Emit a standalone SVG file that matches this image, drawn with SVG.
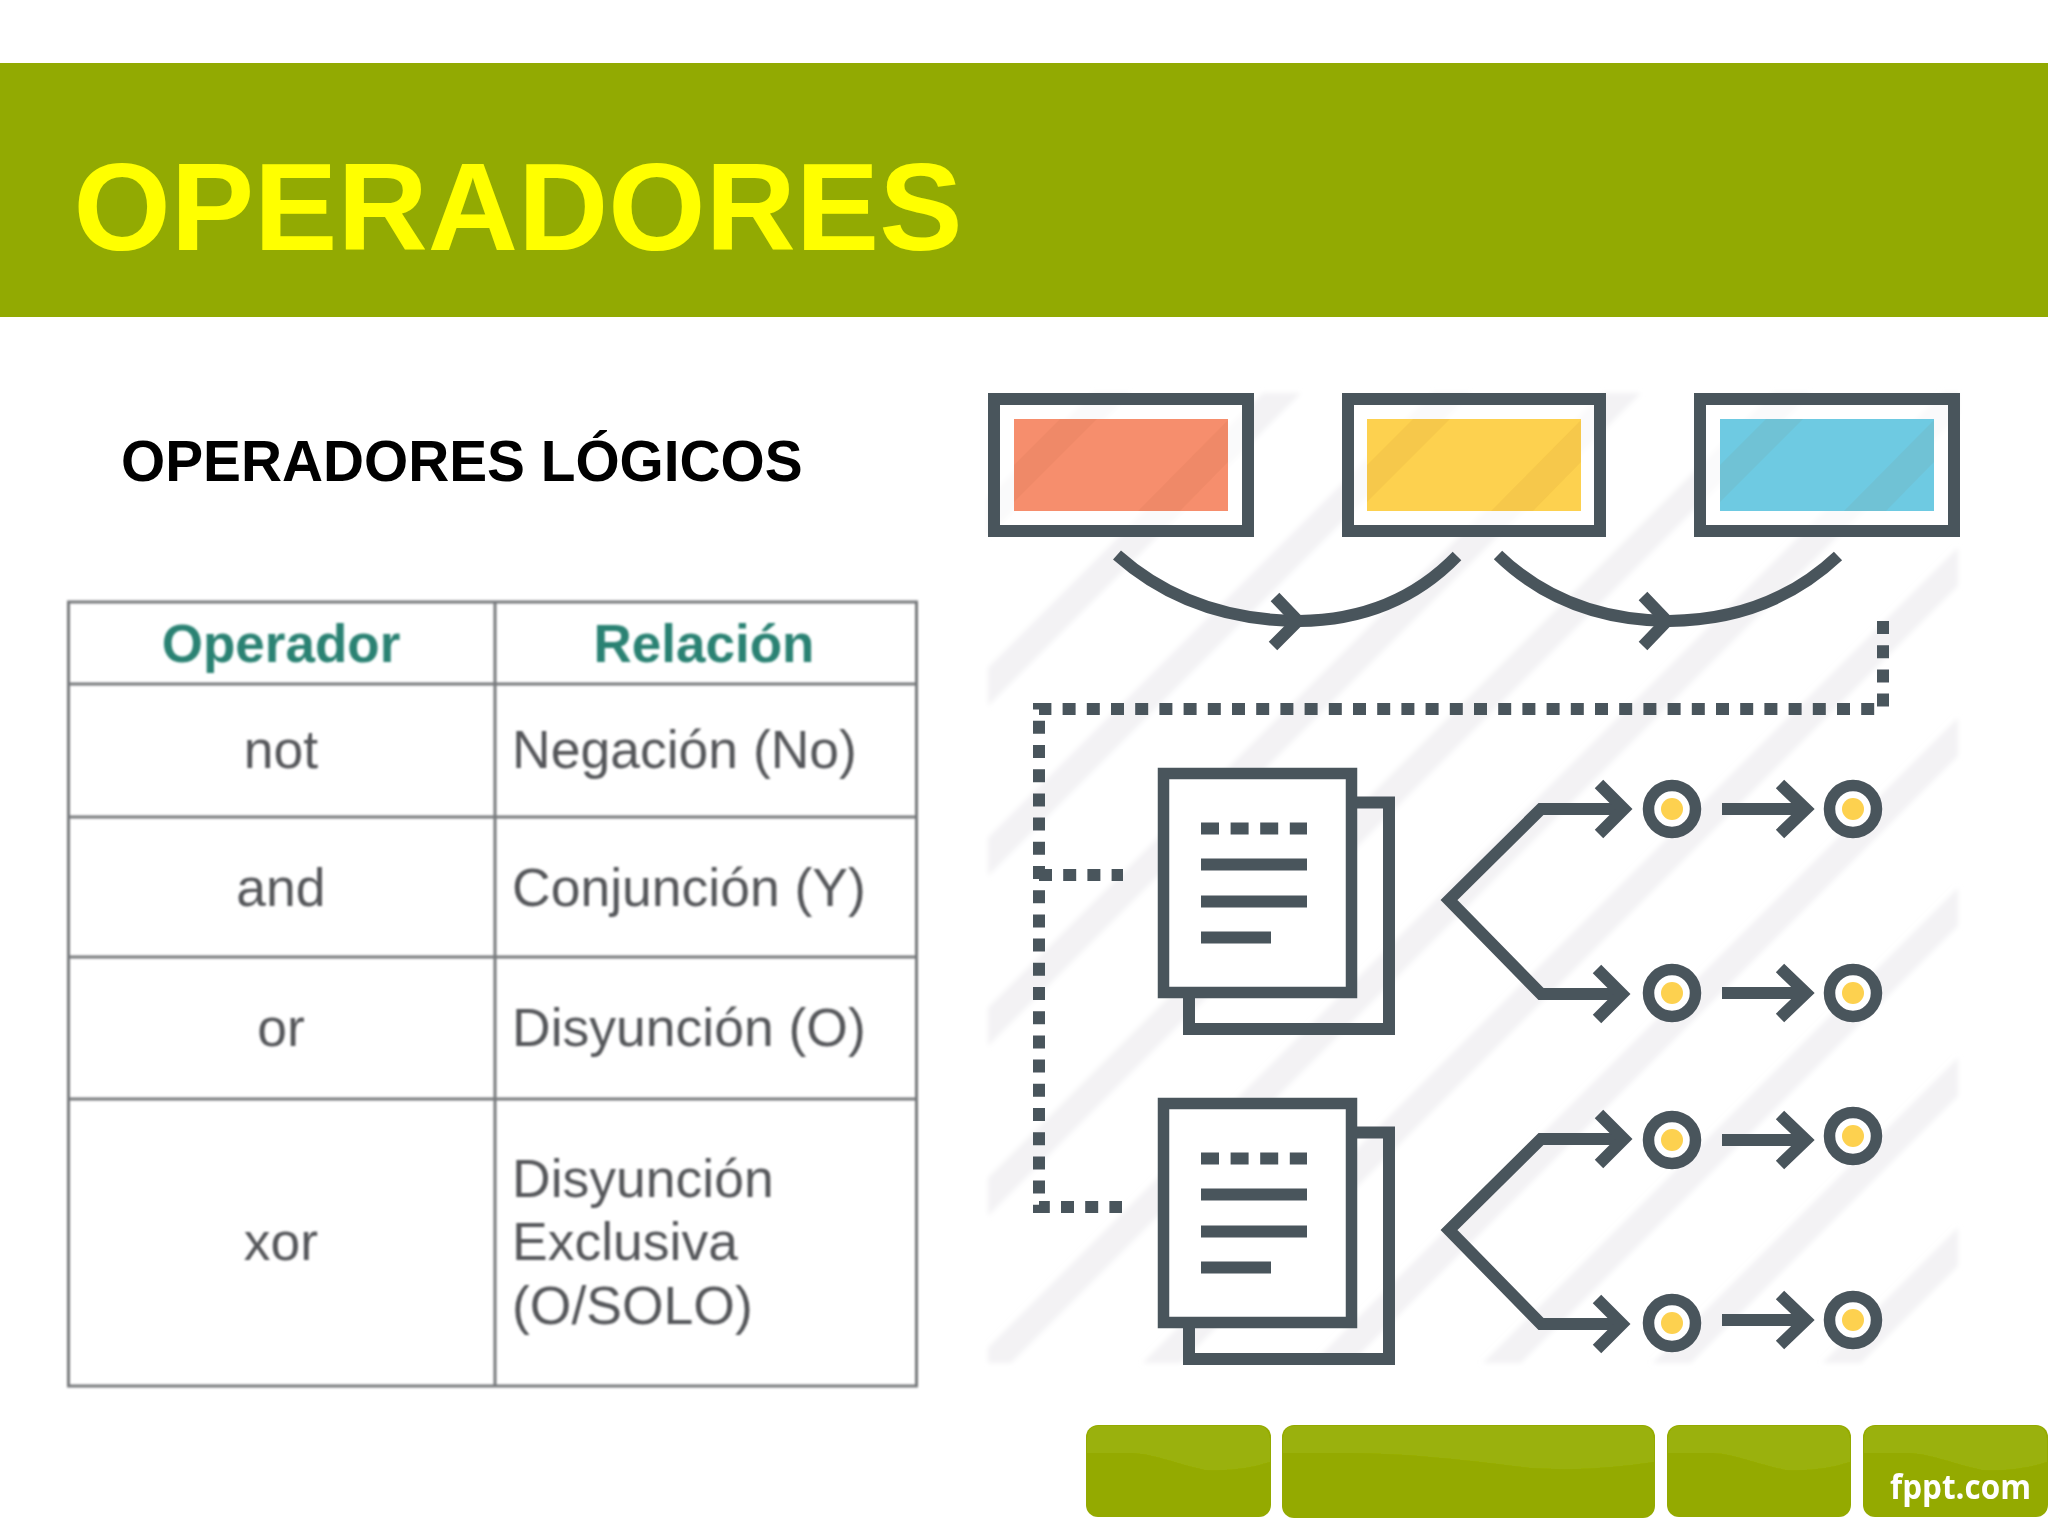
<svg xmlns="http://www.w3.org/2000/svg" width="2048" height="1536" viewBox="0 0 2048 1536">
<style>
.ink{fill:none;stroke:#4a545c;stroke-width:12}
.dot{fill:none;stroke:#4a545c;stroke-width:12;stroke-dasharray:13 11.2}
.frame{fill:#fff;fill-opacity:.6;stroke:#4a545c;stroke-width:12}
.page{fill:#fff;stroke:#4a545c;stroke-width:11.500}
.tint{fill:#8a4a10;fill-opacity:.06}
.ring{fill:#fff;stroke:#4a545c;stroke-width:11.500}
.gold{fill:#fdd14f}
.cell{fill:none;stroke:#77797c;stroke-width:3}
.th{font:bold 53px "Liberation Sans",Arial,sans-serif;fill:#2b8273;text-anchor:middle}
.td{font:53.500px "Liberation Sans",Arial,sans-serif;fill:#55575a}
.tc{text-anchor:middle}
.foot{fill:#94aa02}
.wave{fill:#9ab108}
</style>
<defs>
<pattern id="stripes" patternUnits="userSpaceOnUse" width="120.200" height="120.200" patternTransform="rotate(45)">
<rect x="89" y="0" width="27" height="120.200" fill="#f3f2f4"/>
</pattern>
<filter id="soft" x="-2%" y="-2%" width="104%" height="104%"><feGaussianBlur stdDeviation="0.9"/></filter>
<filter id="softer" x="-2%" y="-2%" width="104%" height="104%"><feGaussianBlur stdDeviation="0.6"/></filter>
<filter id="haze" x="-2%" y="-2%" width="104%" height="104%"><feGaussianBlur stdDeviation="2.500"/></filter>
<g id="tints"><polygon class="tint" points="1060,419 1097,419 1014,502 1014,465"/><polygon class="tint" points="1228,420 1228,462 1180,511 1138,511"/></g>
<g id="doc">
<path class="ink" d="M1357,802.500H1389V1029H1189V998"/>
<rect class="page" x="1163.500" y="773.500" width="188" height="219"/>
<path class="ink" stroke-dasharray="18 11.600" d="M1201,828.500H1307"/>
<path class="ink" d="M1201,864.500H1307M1201,901.500H1307M1201,937.500H1271"/>
</g>
<g id="fork">
<path class="ink" d="M1624,809H1541L1449,900L1541,994H1622"/>
<path class="ink" d="M1599,784L1624,809L1599,834M1597,969L1622,994L1597,1019"/>
</g>
<g id="step"><path class="ink" d="M0,0H84M58,-25L84,0L58,25"/></g>
<g id="pt"><circle class="ring" r="23.500"/><circle class="gold" r="11"/></g>
</defs>
<rect width="2048" height="1536" fill="#fff"/>
<g id="header">
<rect y="63" width="2048" height="254" fill="#92aa02"/>
<text x="73.500" y="250" style="font:bold 125px 'Liberation Sans',Arial,sans-serif" fill="#ffff00">OPERADORES</text>
</g>
<text id="subtitle" x="121" y="481" style="font:bold 56.800px 'Liberation Sans',Arial,sans-serif" fill="#000">OPERADORES LÓGICOS</text>

<g id="table" filter="url(#soft)">
<rect class="cell" x="68.500" y="602" width="848" height="784"/>
<path class="cell" d="M495,602V1386M68,684H917M68,817H917M68,957H917M68,1099H917"/>
<text class="th" x="281" y="662">Operador</text>
<text class="th" x="704" y="662">Relación</text>
<text class="td tc" x="281" y="768">not</text>
<text class="td" x="512" y="768">Negación (No)</text>
<text class="td tc" x="281" y="906">and</text>
<text class="td" x="512" y="906">Conjunción (Y)</text>
<text class="td tc" x="281" y="1046">or</text>
<text class="td" x="512" y="1046">Disyunción (O)</text>
<text class="td tc" x="281" y="1260">xor</text>
<text class="td" x="512" y="1197">Disyunción</text>
<text class="td" x="512" y="1260">Exclusiva</text>
<text class="td" x="512" y="1324">(O/SOLO)</text>
</g>

<rect id="backdrop" x="988" y="393" width="970" height="970" fill="url(#stripes)" filter="url(#haze)"/>

<g id="illustration" filter="url(#softer)">
<g id="box-red"><rect class="frame" x="994" y="399" width="254" height="132"/><rect x="1014" y="419" width="214" height="92" fill="#f68e6d"/><use href="#tints"/></g>
<g id="box-yellow"><rect class="frame" x="1348" y="399" width="252" height="132"/><rect x="1367" y="419" width="214" height="92" fill="#fdd14f"/><use href="#tints" x="353"/></g>
<g id="box-blue"><rect class="frame" x="1700" y="399" width="254" height="132"/><rect x="1720" y="419" width="214" height="92" fill="#6ecae2"/><use href="#tints" x="706"/></g>

<g id="doc-1"><use href="#doc"/></g>
<g id="doc-2"><use href="#doc" y="330"/></g>
<g id="point-1a"><use href="#pt" x="1672" y="809"/></g>
<g id="point-1b"><use href="#pt" x="1853" y="809"/></g>
<g id="point-2a"><use href="#pt" x="1672" y="993"/></g>
<g id="point-2b"><use href="#pt" x="1853" y="993"/></g>
<g id="point-3a"><use href="#pt" x="1672" y="1140"/></g>
<g id="point-3b"><use href="#pt" x="1853" y="1136"/></g>
<g id="point-4a"><use href="#pt" x="1672" y="1323"/></g>
<g id="point-4b"><use href="#pt" x="1853" y="1320"/></g>

<g id="connectors">
<path class="ink" d="M1117,555Q1190,620 1299,621Q1395,620 1457,556"/>
<path class="ink" d="M1275,597L1298,621L1273,646"/>
<path class="ink" d="M1498,555Q1565,620 1669,621Q1770,620 1838,556"/>
<path class="ink" d="M1643,596L1667,621L1643,646"/>
<path class="dot" d="M1883,621V709H1039V1207H1122"/>
<path class="dot" d="M1039,875H1123"/>
<use href="#fork"/>
<use href="#fork" y="330"/>
<use href="#step" x="1722" y="809"/>
<use href="#step" x="1722" y="993"/>
<use href="#step" x="1722" y="1140"/>
<use href="#step" x="1722" y="1320"/>
</g>
</g>

<g id="footer" filter="url(#softer)">
<rect class="foot" x="1086" y="1425" width="185" height="92" rx="12"/>
<rect class="foot" x="1282" y="1425" width="373" height="93" rx="12"/>
<rect class="foot" x="1667" y="1425" width="184" height="92" rx="12"/>
<rect class="foot" x="1863" y="1425" width="185" height="92" rx="12"/>
<path class="wave" d="M1098,1426H1259Q1268,1426 1270,1438V1462Q1240,1472 1205,1470C1170,1462 1150,1452 1125,1453H1087V1438Q1088,1426 1098,1426Z"/>
<path class="wave" d="M1294,1426H1643Q1652,1426 1654,1438V1462Q1590,1472 1530,1468C1450,1458 1400,1453 1340,1453H1283V1438Q1284,1426 1294,1426Z"/>
<path class="wave" d="M1679,1426H1839Q1848,1426 1850,1438V1462Q1820,1472 1785,1470C1750,1462 1730,1452 1705,1453H1668V1438Q1669,1426 1679,1426Z"/>
<path class="wave" d="M1875,1426H2036Q2045,1426 2047,1438V1462Q2017,1472 1982,1470C1947,1462 1927,1452 1902,1453H1864V1438Q1865,1426 1875,1426Z"/>
<text x="1890" y="1499" style="font:bold 34px 'Open Sans',sans-serif" fill="#fff" textLength="141" lengthAdjust="spacingAndGlyphs">fppt.com</text>
</g>
</svg>
